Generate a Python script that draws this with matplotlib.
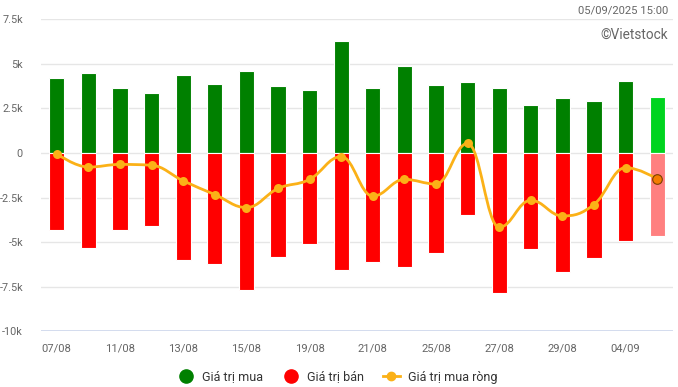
import matplotlib
matplotlib.use("Agg")
import matplotlib.pyplot as plt
from matplotlib.path import Path
from matplotlib.patches import PathPatch
from matplotlib.lines import Line2D
import numpy as np

plt.rcParams['font.family'] = ['Roboto', 'DejaVu Sans']

dates = ["07/08", "08/08", "11/08", "12/08", "13/08", "14/08", "15/08", "18/08",
         "19/08", "20/08", "21/08", "22/08", "25/08", "26/08", "27/08", "28/08",
         "29/08", "03/09", "04/09", "05/09"]
buy = [4.21, 4.49, 3.64, 3.36, 4.38, 3.87, 4.60, 3.76, 3.53, 6.29,
       3.64, 4.88, 3.81, 3.98, 3.64, 2.69, 3.08, 2.91, 4.04, 3.14]
sell = [4.30, 5.31, 4.30, 4.07, 5.99, 6.21, 7.67, 5.82, 5.08, 6.55,
        6.10, 6.38, 5.59, 3.45, 7.84, 5.37, 6.66, 5.87, 4.92, 4.63]
net = [-0.05, -0.79, -0.64, -0.69, -1.56, -2.33, -3.06, -1.99, -1.48, -0.20,
       -2.42, -1.48, -1.74, 0.54, -4.17, -2.65, -3.53, -2.89, -0.82, -1.44]
yticks = [-10, -7.5, -5, -2.5, 0, 2.5, 5, 7.5]
ytick_labels = ["-10k", "-7.5k", "-5k", "-2.5k", "0", "2.5k", "5k", "7.5k"]

buy_v = np.array(buy) * 1000
sell_v = -np.array(sell) * 1000
net_v = np.array(net) * 1000
n = len(dates)
x = np.arange(n)

GREEN = "#008000"
RED = "#ff0000"
LINE = "#fbb117"
TXT = "#666666"

fig = plt.figure(figsize=(6.78, 3.87), dpi=100)
ax = fig.add_axes([41/678, 1-331.3/387, 632/678, (331.3-19.3)/387])
ax.set_xlim(-0.5, n-0.5)
ax.set_ylim(-10000, 7500)

for yv in yticks[1:]:
    ax.axhline(yv*1000, color="#e6e6e6", lw=1, zorder=0)
ax.axhline(-10000, color="#ccd6eb", lw=1.2, zorder=0.5)

bcol = [GREEN]*(n-1) + ["#00d41f"]
scol = [RED]*(n-1) + ["#ff8080"]
w = 0.475
ax.bar(x, buy_v, width=w, color=bcol, edgecolor="white", linewidth=0.8, zorder=2)
ax.bar(x, sell_v, width=w, color=scol, edgecolor="white", linewidth=0.8, zorder=2)

# Highcharts-like spline through points
def spline_path(xs, ys, smoothing=1.5):
    denom = smoothing + 1
    verts = [(xs[0], ys[0])]
    codes = [Path.MOVETO]
    ctrl = []
    for i in range(len(xs)):
        if i == 0 or i == len(xs)-1:
            ctrl.append(((xs[i], ys[i]), (xs[i], ys[i])))
            continue
        lx, ly = xs[i-1], ys[i-1]
        nx, ny = xs[i+1], ys[i+1]
        px, py = xs[i], ys[i]
        lcx = (smoothing*px + lx)/denom
        lcy = (smoothing*py + ly)/denom
        rcx = (smoothing*px + nx)/denom
        rcy = (smoothing*py + ny)/denom
        if rcx != lcx:
            corr = ((rcy - lcy)*(rcx - px))/(rcx - lcx) + py - rcy
            lcy += corr
            rcy += corr
        if lcy > ly and lcy > py:
            lcy = max(ly, py); rcy = 2*py - lcy
        elif lcy < ly and lcy < py:
            lcy = min(ly, py); rcy = 2*py - lcy
        if rcy > ny and rcy > py:
            rcy = max(ny, py); lcy = 2*py - rcy
        elif rcy < ny and rcy < py:
            rcy = min(ny, py); lcy = 2*py - rcy
        ctrl.append(((lcx, lcy), (rcx, rcy)))
    for i in range(1, len(xs)):
        verts += [ctrl[i-1][1], ctrl[i][0], (xs[i], ys[i])]
        codes += [Path.CURVE4]*3
    return Path(verts, codes)

ax.add_patch(PathPatch(spline_path(x.astype(float), net_v), facecolor="none",
                       edgecolor=LINE, lw=2, zorder=3, capstyle="round", joinstyle="round"))
ax.scatter(x[:-1], net_v[:-1], s=42, color=LINE, zorder=4, linewidths=0)
ax.scatter(x[-1:], net_v[-1:], s=48, color="#f57c00", edgecolors="#7a3d00", linewidths=0.8, zorder=5)

ax.set_yticks([v*1000 for v in yticks])
ax.set_yticklabels(ytick_labels)
ax.set_xticks(x[::2])
ax.set_xticklabels(dates[::2])
ax.tick_params(axis='y', length=0, pad=13, labelsize=7.8, labelcolor=TXT)
ax.tick_params(axis='x', length=0, pad=9, labelsize=8.1, labelcolor=TXT)
for s in ax.spines.values():
    s.set_visible(False)

fig.text(668/678, 1-11/387, "05/09/2025 15:00", ha="right", va="center", fontsize=8.1, color=TXT)
fig.text(668/678, 1-35/387, "©Vietstock", ha="right", va="center", fontsize=9.8, color=TXT)

handles = [
    Line2D([], [], marker='o', ls='none', color=GREEN, markersize=9.5),
    Line2D([], [], marker='o', ls='none', color=RED, markersize=9.5),
    Line2D([], [], marker='o', color=LINE, lw=2, markersize=6),
]
leg = fig.legend(handles, ["Giá trị mua", "Giá trị bán", "Giá trị mua ròng"],
                 loc="center", bbox_to_anchor=(337/678, 1-377/387), ncol=3, frameon=False,
                 fontsize=9, handlelength=1.4, handletextpad=0.6, columnspacing=1.5)
for t in leg.get_texts():
    t.set_color("#333333")

fig.savefig("out.png", dpi=100)
